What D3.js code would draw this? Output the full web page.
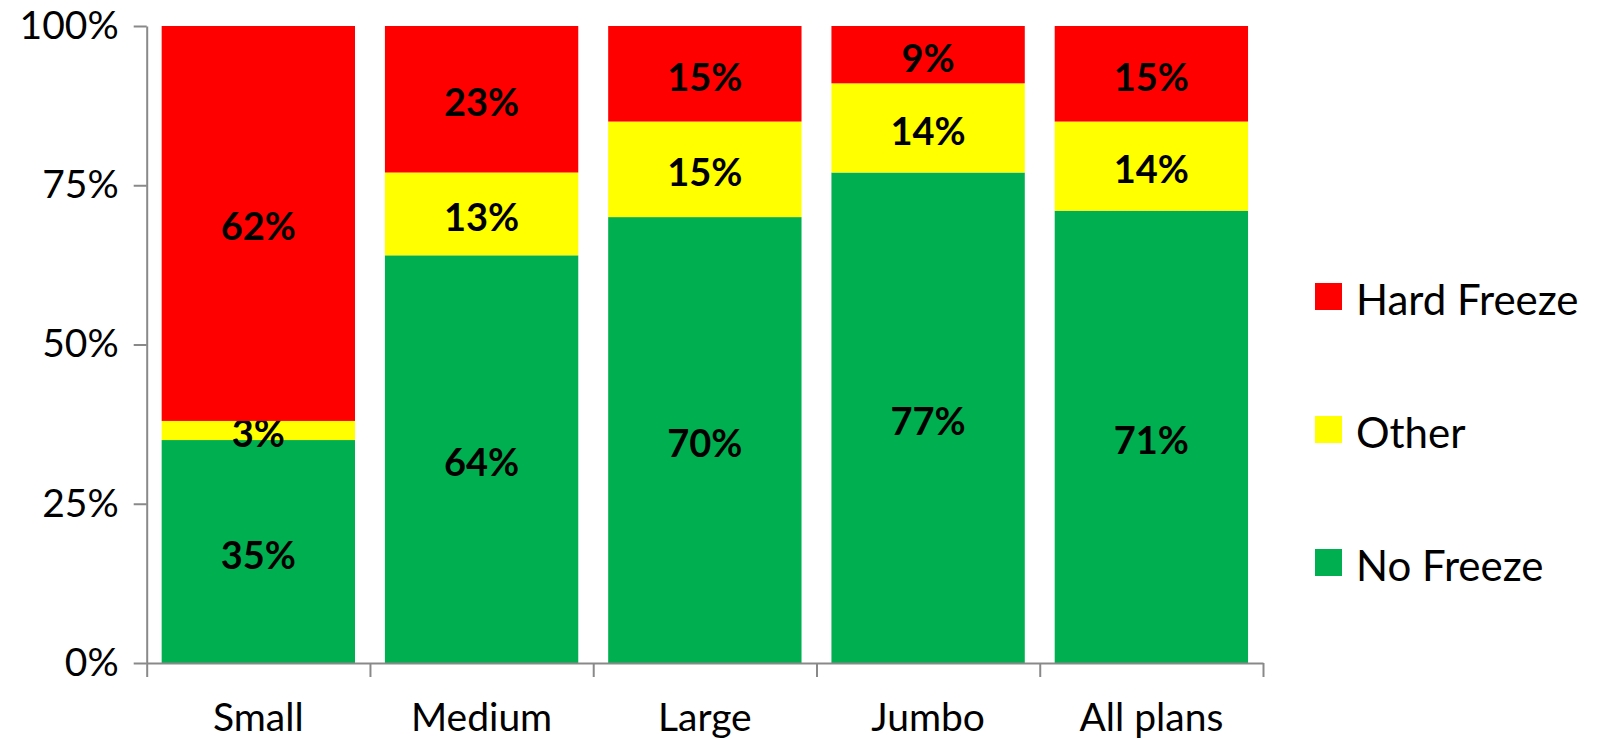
<!DOCTYPE html>
<meta charset="utf-8">
<style type="text/css">

body {
  margin: 0;
  background: #fff;
  font-family: 'Lato', 'Liberation Sans', sans-serif;
}

.axis text {
  font-family: 'Lato', 'Liberation Sans', sans-serif;
  font-size: 39px;
  fill: #000;
}

.axis line, .axis path {
  stroke: #898989;
  stroke-width: 2px;
}

.seg-label {
  font-size: 38px;
  font-weight: bold;
  fill: #000;
}

.legend text {
  font-size: 42px;
  fill: #000;
}

</style>
<body>
<div class="g-chart"></div>
<script src="https://cdnjs.cloudflare.com/ajax/libs/d3/7.8.5/d3.min.js"></script>
<script type="text/javascript">

// data (percent)
var categories = ["Small", "Medium", "Large", "Jumbo", "All plans"];
var noFreeze   = [35, 64, 70, 77, 71];
var other      = [3, 13, 15, 14, 14];
var hardFreeze = [62, 23, 15, 9, 15];
var yTicks     = [0, 25, 50, 75, 100];

var seriesNames  = ["No Freeze", "Other", "Hard Freeze"];
var seriesColors = ["#00B050", "#FFFF00", "#FF0000"];

//Sets dimensions
var width = 1604, height = 739;
var plot = {left: 146.7, right: 1263, top: 26, bottom: 663};

var rows = categories.map(function(c, i) {
  return {cat: c, "No Freeze": noFreeze[i], "Other": other[i], "Hard Freeze": hardFreeze[i]};
});

var stack = d3.stack().keys(seriesNames);
var layers = stack(rows);

var x = d3.scaleBand()
    .domain(categories)
    .range([plot.left, plot.right])
    .paddingInner(0.134)
    .paddingOuter(0.067);

var y = d3.scaleLinear()
    .domain([0, 100])
    .range([plot.bottom, plot.top]);

// boundaries between categories, for the bottom ticks
var xEdge = d3.scaleLinear()
    .domain([0, categories.length])
    .range([plot.left, plot.right]);

var color = d3.scaleOrdinal().domain(seriesNames).range(seriesColors);

var svg = d3.select(".g-chart").append("svg")
    .attr("width", width)
    .attr("height", height);

//Append bars
var layer = svg.append("g").selectAll("g")
    .data(layers)
    .enter().append("g")
    .attr("fill", function(d) { return color(d.key); });

layer.selectAll("rect")
    .data(function(d) { return d; })
    .enter().append("rect")
    .attr("x", function(d) { return x(d.data.cat); })
    .attr("width", x.bandwidth())
    .attr("y", function(d) { return y(d[1]); })
    .attr("height", function(d) { return y(d[0]) - y(d[1]); });

//Segment labels
layer.selectAll("text")
    .data(function(d) { return d.map(function(p) { return {p: p, key: d.key}; }); })
    .enter().append("text")
    .attr("class", "seg-label")
    .attr("text-anchor", "middle")
    .attr("dominant-baseline", "central")
    .attr("x", function(d) { return x(d.p.data.cat) + x.bandwidth() / 2; })
    .attr("y", function(d) { return y((d.p[0] + d.p[1]) / 2) + 2; })
    .text(function(d) { return d.p.data[d.key] + "%"; });

//Y axis
var yAxis = svg.append("g")
    .attr("class", "axis")
    .attr("transform", "translate(" + plot.left + ",0)")
    .call(d3.axisLeft(y)
      .tickValues(yTicks)
      .tickFormat(function(d) { return d + "%"; })
      .tickSize(13)
      .tickSizeOuter(0)
      .tickPadding(15));

//X axis: line + boundary ticks
svg.append("g")
    .attr("class", "axis")
    .attr("transform", "translate(0," + plot.bottom + ")")
    .call(d3.axisBottom(xEdge)
      .tickValues(d3.range(categories.length + 1))
      .tickFormat("")
      .tickSize(14)
      .tickSizeOuter(0));

//X labels
var xAxis = svg.append("g")
    .attr("class", "axis")
    .attr("transform", "translate(0," + plot.bottom + ")")
    .call(d3.axisBottom(x).tickSize(0).tickPadding(40));
xAxis.select(".domain").remove();

//Legend
var legend = svg.append("g")
    .attr("class", "legend")
    .selectAll("g")
    .data(seriesNames.slice().reverse())
    .enter().append("g")
    .attr("transform", function(d, i) { return "translate(1315," + (296.5 + i * 133) + ")"; });

legend.append("rect")
    .attr("y", -13.5)
    .attr("width", 27)
    .attr("height", 27)
    .attr("fill", function(d) { return color(d); });

legend.append("text")
    .attr("x", 41)
    .attr("dominant-baseline", "central")
    .attr("y", 2)
    .text(function(d) { return d; });

</script>
</body>
